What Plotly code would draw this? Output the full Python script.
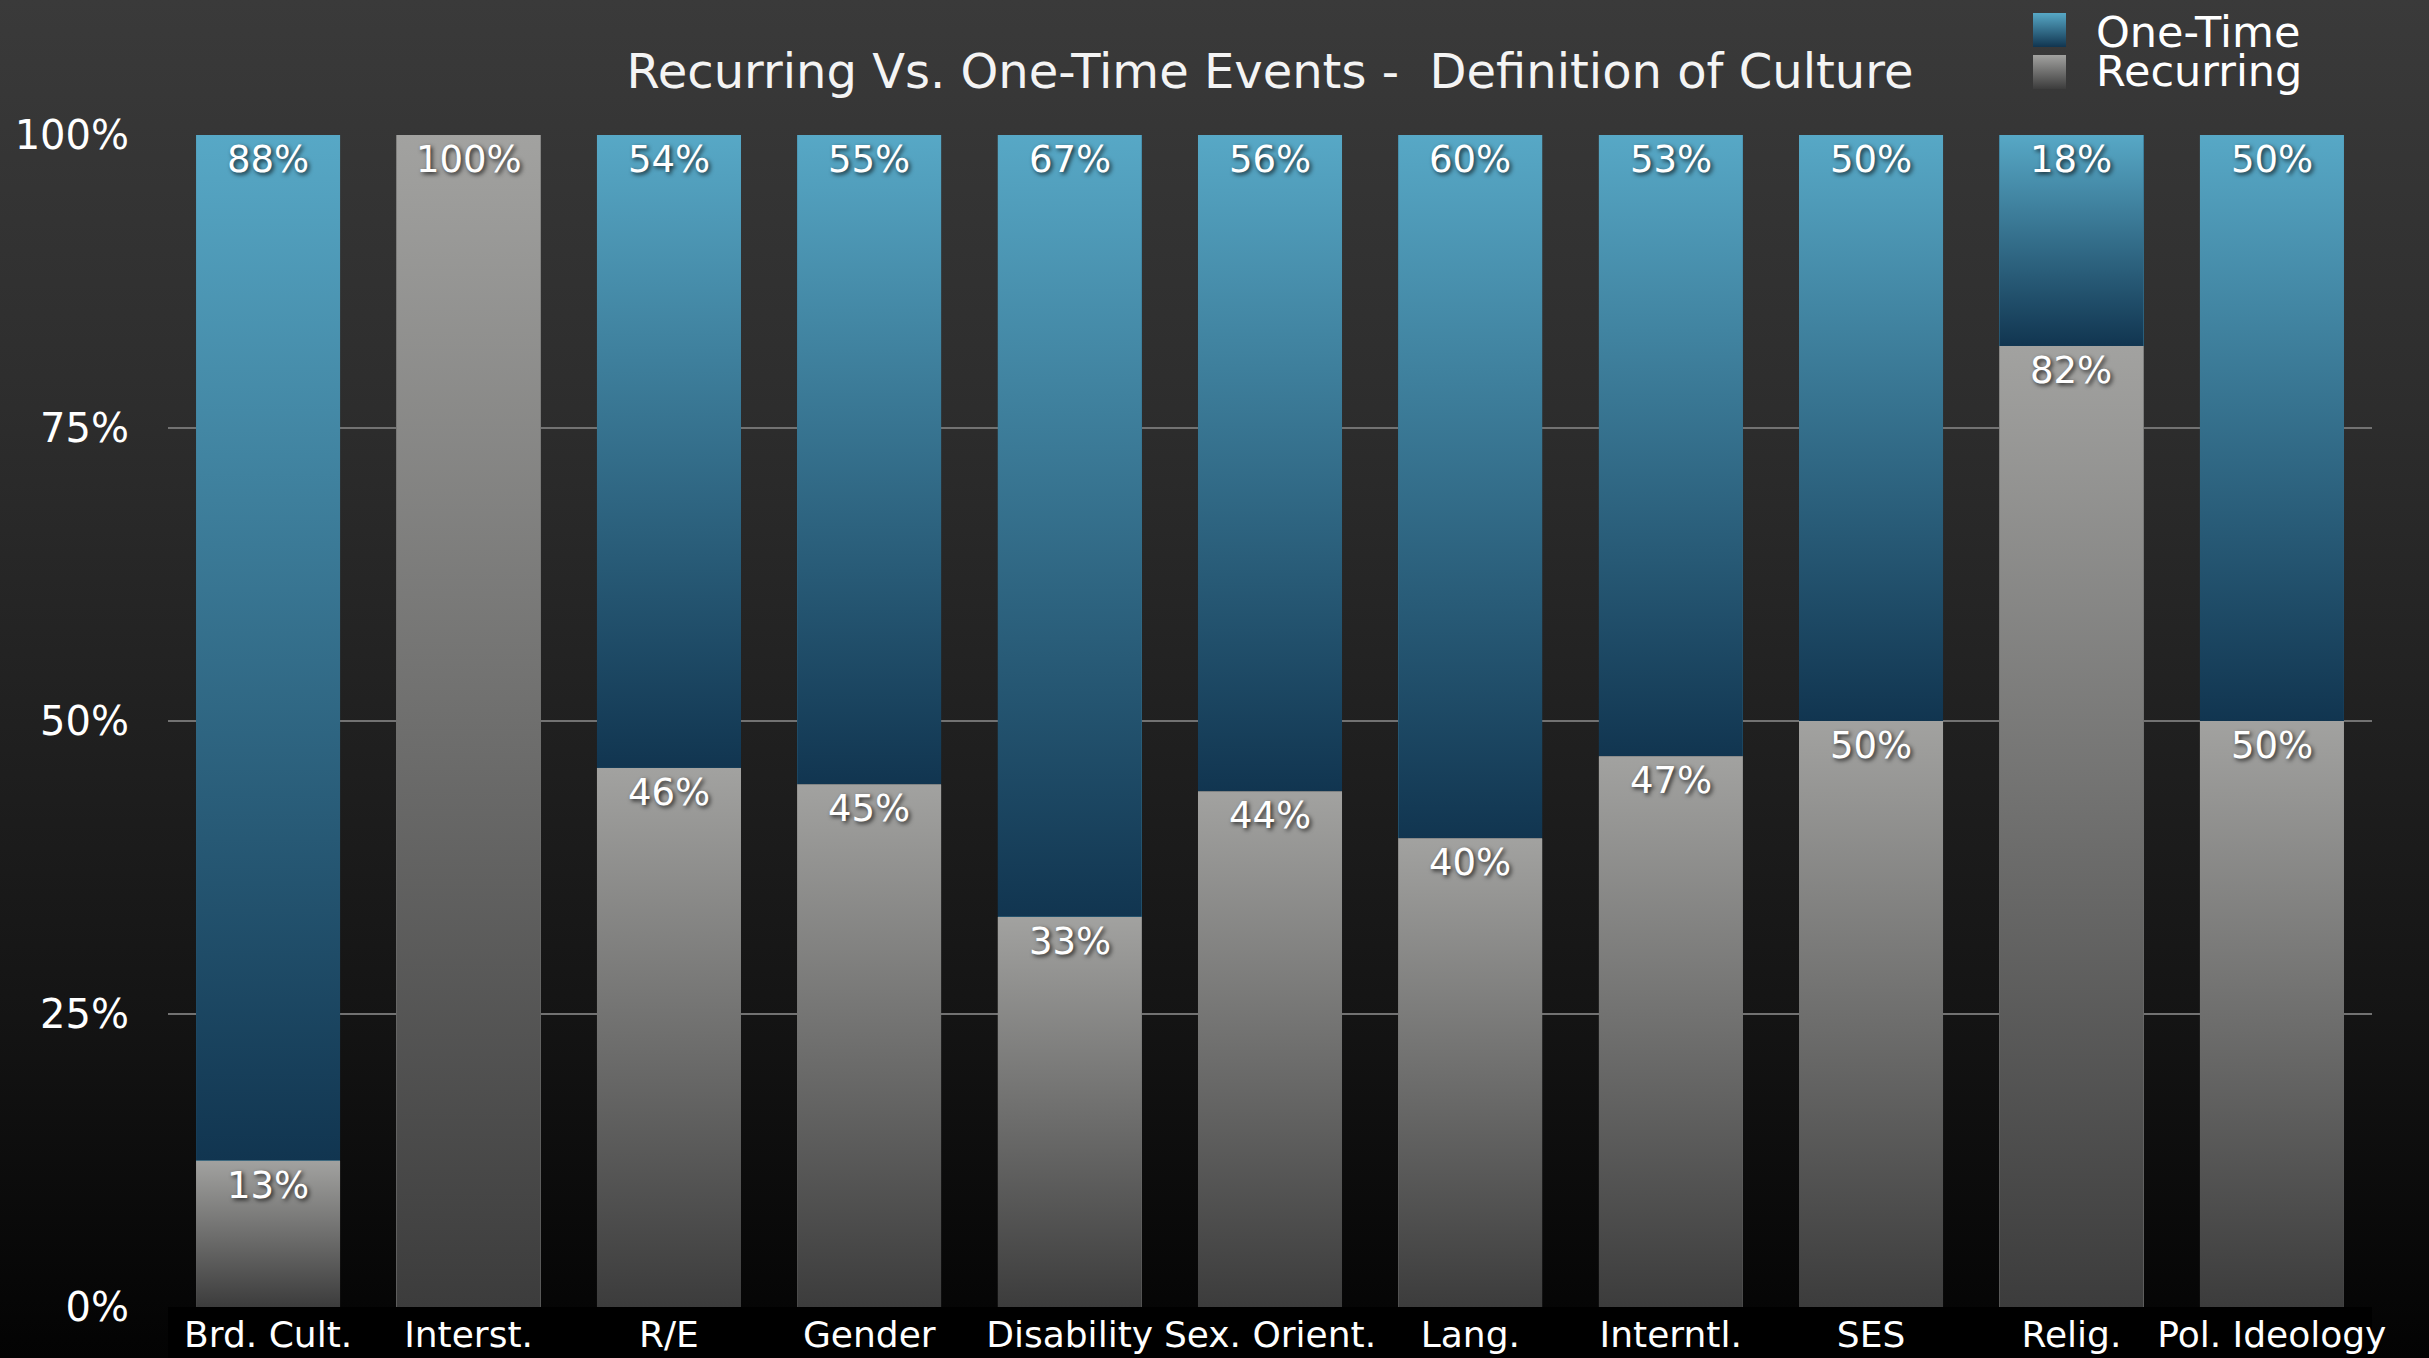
import base64
import math
import plotly.graph_objects as go

# ---------------- data ----------------
categories = ["Brd. Cult.", "Interst.", "R/E", "Gender", "Disability", "Sex. Orient.",
              "Lang.", "Interntl.", "SES", "Relig.", "Pol. Ideology"]
recurring = [12.5, 100, 46, 44.6, 33.3, 44, 40, 47, 50, 82, 50]
one_time = [87.5, 0, 54, 55.4, 66.7, 56, 60, 53, 50, 18, 50]
y_ticks = [0, 25, 50, 75, 100]
y_tick_labels = ["0%", "25%", "50%", "75%", "100%"]
title_text = "Recurring Vs. One-Time Events -\u00a0 Definition of Culture"

# ---------------- style ----------------
FONT = "DejaVu Sans"
BAR_W = 0.72
BLUE_TOP, BLUE_BOT = "#57a8c6", "#113550"
GRAY_TOP, GRAY_BOT = "#a2a2a0", "#3c3c3c"
SHADOW = "2px 2px 4px rgba(0,0,0,0.75)"


def grad_uri(stops, w=10, h=100):
    st = "".join(f'<stop offset="{o}" stop-color="{c}"/>' for o, c in stops)
    svg = (f'<svg xmlns="http://www.w3.org/2000/svg" width="{w}" height="{h}" '
           f'viewBox="0 0 {w} {h}" preserveAspectRatio="none"><defs>'
           f'<linearGradient id="g" x1="0" y1="0" x2="0" y2="1">{st}</linearGradient>'
           f'</defs><rect width="{w}" height="{h}" fill="url(#g)"/></svg>')
    return "data:image/svg+xml;base64," + base64.b64encode(svg.encode()).decode()


blue_img = grad_uri([(0, BLUE_TOP), (1, BLUE_BOT)])
gray_img = grad_uri([(0, GRAY_TOP), (1, GRAY_BOT)])
bg_img = grad_uri([(0, "#3a3a3a"), (0.3, "#2d2d2d"), (0.75, "#141414"), (1, "#030303")])

xs = list(range(len(categories)))

fig = go.Figure()
fig.add_trace(go.Bar(x=xs, y=recurring, name="Recurring", width=BAR_W,
                     marker=dict(color="#6e6e6d", line=dict(width=0)),
                     customdata=categories,
                     hovertemplate="%{customdata}<br>Recurring: %{y}%<extra></extra>"))
fig.add_trace(go.Bar(x=xs, y=one_time, name="One-Time", width=BAR_W,
                     marker=dict(color="#336f8b", line=dict(width=0)),
                     customdata=categories,
                     hovertemplate="%{customdata}<br>One-Time: %{y}%<extra></extra>"))

images = []
annotations = []
# page background gradient (paper coords relative to plot area)
L, R, T, B, W, H = 168, 57, 135, 51, 2429, 1358
pw, ph = W - L - R, H - T - B
images.append(dict(source=bg_img, xref="paper", yref="paper",
                   x=-L / pw, y=1 + T / ph, sizex=W / pw, sizey=H / ph,
                   xanchor="left", yanchor="top", sizing="stretch", layer="below"))

# gradient overlays on each bar segment + value labels
for i, (r, o) in enumerate(zip(recurring, one_time)):
    segs = [(0, r, gray_img), (r, r + o, blue_img)]
    for base, top, img in segs:
        val = top - base
        if val <= 0:
            continue
        images.append(dict(source=img, xref="x", yref="y",
                           x=xs[i] - BAR_W / 2, y=top, sizex=BAR_W, sizey=val,
                           xanchor="left", yanchor="top", sizing="stretch",
                           layer="above"))
        annotations.append(dict(x=xs[i], y=min(top, 100), xref="x", yref="y",
                                text=f"{math.floor(val + 0.5)}%", showarrow=False,
                                yanchor="top", xanchor="center", yshift=-1,
                                font=dict(family=FONT, size=37, color="white",
                                          shadow=SHADOW)))

# custom legend
legend_items = [("One-Time", blue_img, 13, 32), ("Recurring", gray_img, 55, 71)]
for name, img, sq_top, txt_mid in legend_items:
    images.append(dict(source=img, xref="paper", yref="paper",
                       x=(2033 - L) / pw, y=1 + (T - sq_top) / ph,
                       sizex=33 / pw, sizey=34 / ph,
                       xanchor="left", yanchor="top", sizing="stretch", layer="above"))
    annotations.append(dict(x=(2094 - L) / pw, y=1 + (T - txt_mid) / ph,
                            xref="paper", yref="paper", text=name, showarrow=False,
                            xanchor="left", yanchor="middle",
                            font=dict(family=FONT, size=43, color="white")))

fig.update_layout(
    width=W, height=H,
    barmode="stack",
    bargap=0.28,
    showlegend=False,
    paper_bgcolor="#1c1c1c",
    plot_bgcolor="rgba(0,0,0,0)",
    margin=dict(l=L, r=R, t=T, b=B, autoexpand=False),
    title=dict(text=title_text, x=0.5, xref="paper", xanchor="center",
               y=1 - 71 / H, yref="container", yanchor="middle",
               font=dict(family=FONT, size=48, color="#f4f4f4")),
    images=images,
    annotations=annotations,
    shapes=[dict(type="rect", xref="paper", yref="paper", x0=0, x1=1,
                 y0=-B / ph - 0.01, y1=0, fillcolor="#000000",
                 line=dict(width=0), layer="below")],
    xaxis=dict(range=[-0.5, len(categories) - 0.5], tickvals=xs, ticktext=categories,
               showgrid=False, zeroline=False, showline=False, ticks="",
               ticklabelstandoff=3, automargin=False,
               tickfont=dict(family=FONT, size=36, color="white")),
    yaxis=dict(range=[0, 100], tickvals=y_ticks, ticktext=y_tick_labels,
               showgrid=True, gridcolor="#727272", gridwidth=2,
               zeroline=False, showline=False, ticks="",
               ticklabelstandoff=38, automargin=False,
               tickfont=dict(family=FONT, size=40, color="white")),
    font=dict(family=FONT, color="white"),
)

fig.write_html(
    "out.html",
    config={"displayModeBar": False},
    post_script="document.body.style.margin='0';document.body.style.background='#000';",
)
